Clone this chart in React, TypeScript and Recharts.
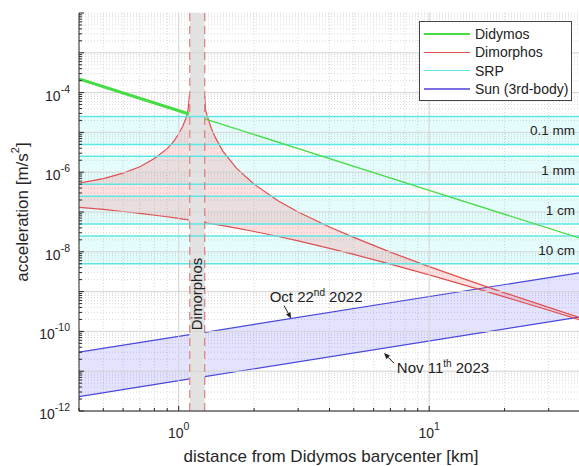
import React from "react"
import {
    ComposedChart,
    XAxis,
    YAxis,
    CartesianGrid,
    Line,
    Area,
    ReferenceArea,
    ReferenceLine,
    ReferenceDot,
} from "recharts"

const FONT = '"Liberation Sans", Arial, Helvetica, sans-serif'
const PLOT_LEFT = 79
const PLOT_BOTTOM = 411

// distances [km] and accelerations [m/s^2]
const didymosDist = [1.27, 10, 40]
const didymosAcc = [2.2e-5, 3.5e-7, 2.2e-8]
const didymosInnerDist = [0.4, 1.1]
const didymosInnerAcc = [2.2e-4, 2.9e-5]

// Dimorphos, inside its orbit
const dimInDist = [0.4, 0.5, 0.6, 0.7, 0.8, 0.9, 0.95, 1.0, 1.04, 1.07, 1.09, 1.105]
const dimInUpper = [5.3e-7, 6.9e-7, 9.5e-7, 1.37e-6, 2.2e-6, 3.9e-6, 5.7e-6, 9.1e-6, 1.47e-5, 2.3e-5, 3.6e-5, 9e-5]
const dimInLower = [1.3e-7, 1.16e-7, 1.03e-7, 9.2e-8, 8.3e-8, 7.6e-8, 7.2e-8, 6.9e-8, 6.6e-8, 6.5e-8, 6.3e-8, 6.3e-8]

// Dimorphos, outside its orbit
const dimOutDist = [1.27, 1.28, 1.3, 1.35, 1.4, 1.5, 1.7, 2, 2.5, 3, 4, 5, 7, 10, 15, 20, 30, 40]
const dimOutUpper = [
    8.5e-5, 3.6e-5, 2.6e-5, 1.25e-5, 7.5e-6, 3.4e-6, 1.27e-6, 5.0e-7, 1.9e-7, 1.0e-7, 4.2e-8, 2.3e-8, 9.8e-9,
    4.25e-9, 1.73e-9, 9.3e-10, 4.0e-10, 2.2e-10,
]
const dimOutLower = [
    5.45e-8, 5.4e-8, 5.3e-8, 5.1e-8, 4.9e-8, 4.56e-8, 3.95e-8, 3.24e-8, 2.42e-8, 1.88e-8, 1.22e-8, 8.6e-9,
    4.9e-9, 2.64e-9, 1.26e-9, 7.35e-10, 3.4e-10, 1.95e-10,
]

const srpLabels = ["0.1 mm", "1 mm", "1 cm", "10 cm"]
const srpHigh = [2.5e-5, 2.5e-6, 2.5e-7, 2.5e-8]
const srpLow = [5e-6, 5e-7, 5e-8, 5e-9]

const sunInDist = [0.4, 1.107]
const sunInOct = [3e-11, 8.3e-11]
const sunInNov = [2.3e-12, 6.4e-12]
const sunOutDist = [1.27, 40]
const sunOutOct = [9.5e-11, 3e-9]
const sunOutNov = [7.3e-12, 2.3e-10]

const dimorphosZone = [1.107, 1.27]

const xTicks = [0.4, 0.5, 0.6, 0.7, 0.8, 0.9, 1, 2, 3, 4, 5, 6, 7, 8, 9, 10, 20, 30, 40]
const xLabelExps = [0, 1]
const yLabelExps = [-12, -10, -8, -6, -4]
const yDecades = [-12, -11, -10, -9, -8, -7, -6, -5, -4, -3]
const yTicks = [...yDecades.flatMap((e) => [1, 2, 3, 4, 5, 6, 7, 8, 9].map((m) => m * Math.pow(10, e))), 1e-2]

const GREEN = "#45dc45"
const RED = "#de5050"
const CYAN = "#5ee6e6"
const BLUE = "#4848dc"

const toLine = (ds: number[], as: number[]) => ds.map((d, i) => ({ d, a: as[i] }))
const toBand = (ds: number[], lo: number[], hi: number[]) => ds.map((d, i) => ({ d, band: [lo[i], hi[i]] }))

const didymosData = toLine(didymosDist, didymosAcc)
const didymosInnerData = toLine(didymosInnerDist, didymosInnerAcc)
const dimInData = toBand(dimInDist, dimInLower, dimInUpper)
const dimOutData = toBand(dimOutDist, dimOutLower, dimOutUpper)
const sunInData = toBand(sunInDist, sunInNov, sunInOct)
const sunOutData = toBand(sunOutDist, sunOutNov, sunOutOct)

function decadeOf(v: number) {
    const l = Math.log10(v)
    const r = Math.round(l)
    return Math.abs(l - r) < 1e-6 ? r : null
}

function YTick(props: any) {
    const { y, payload } = props
    const exp = decadeOf(payload.value)
    const major = exp !== null
    return (
        <g>
            <line x1={PLOT_LEFT} x2={PLOT_LEFT + (major ? 5 : 3)} y1={y} y2={y} stroke="#262626" />
            {major && yLabelExps.includes(exp as number) && (
                <text x={PLOT_LEFT - 9} y={y + 8} textAnchor="end" fontSize={14} fill="#262626" fontFamily={FONT}>
                    10
                    <tspan dy={-8} fontSize={10.5}>
                        {exp}
                    </tspan>
                </text>
            )}
        </g>
    )
}

function XTick(props: any) {
    const { x, payload } = props
    const exp = decadeOf(payload.value)
    const major = exp !== null
    return (
        <g>
            <line x1={x} x2={x} y1={PLOT_BOTTOM} y2={PLOT_BOTTOM - (major ? 5 : 3)} stroke="#262626" />
            {major && xLabelExps.includes(exp as number) && (
                <text x={x} y={PLOT_BOTTOM + 27} textAnchor="middle" fontSize={14} fill="#262626" fontFamily={FONT}>
                    10
                    <tspan dy={-8} fontSize={10.5}>
                        {exp}
                    </tspan>
                </text>
            )}
        </g>
    )
}

function arrow(x1: number, y1: number, x2: number, y2: number) {
    const len = Math.hypot(x2 - x1, y2 - y1)
    const ux = (x2 - x1) / len
    const uy = (y2 - y1) / len
    const bx = x2 - ux * 6
    const by = y2 - uy * 6
    const pts = `${x2},${y2} ${bx - uy * 2.5},${by + ux * 2.5} ${bx + uy * 2.5},${by - ux * 2.5}`
    return (
        <g>
            <line x1={x1} y1={y1} x2={bx} y2={by} stroke="#222" strokeWidth={1} />
            <polygon points={pts} fill="#222" />
        </g>
    )
}

function OctNote(p: any) {
    const { cx, cy } = p
    return (
        <g>
            {arrow(cx - 7, cy - 13, cx, cy)}
            <text x={cx + 25} y={cy - 17} textAnchor="middle" fontSize={15} fill="#222" fontFamily={FONT}>
                Oct 22
                <tspan dy={-6} fontSize={10}>
                    nd
                </tspan>
                <tspan dy={6}> 2022</tspan>
            </text>
        </g>
    )
}

function NovNote(p: any) {
    const { cx, cy } = p
    return (
        <g>
            {arrow(cx + 10, cy + 15, cx, cy + 5)}
            <text x={cx + 59} y={cy + 25} textAnchor="middle" fontSize={15} fill="#222" fontFamily={FONT}>
                Nov 11
                <tspan dy={-6} fontSize={10}>
                    th
                </tspan>
                <tspan dy={6}> 2023</tspan>
            </text>
        </g>
    )
}

function DimorphosTag(p: any) {
    const { cx, cy } = p
    return (
        <text
            x={cx}
            y={cy}
            transform={`rotate(-90 ${cx} ${cy})`}
            textAnchor="middle"
            dominantBaseline="central"
            fontSize={15}
            fill="#222"
            fontFamily={FONT}
        >
            Dimorphos
        </text>
    )
}

const legendItems = [
    { name: "Didymos", color: GREEN },
    { name: "Dimorphos", color: RED },
    { name: "SRP", color: CYAN },
    { name: "Sun (3rd-body)", color: "#7b70e0" },
]

function band(data: any[], fill: string, opacity: number, stroke: string, key: string) {
    return (
        <Area
            key={key}
            data={data}
            dataKey="band"
            type="linear"
            fill={fill}
            fillOpacity={opacity}
            stroke={stroke}
            strokeWidth={1.2}
            isAnimationActive={false}
        />
    )
}

export default function App() {
    return (
        <div
            style={{
                position: "absolute",
                left: 0,
                top: 0,
                width: 579,
                height: 466,
                overflow: "hidden",
                background: "#fff",
                fontFamily: FONT,
            }}
        >
            <ComposedChart width={585} height={466} margin={{ top: 13, right: 5, bottom: 0, left: 0 }}>
                <CartesianGrid stroke="#d9d9d9" strokeDasharray="1 2" />
                <XAxis
                    type="number"
                    dataKey="d"
                    scale="log"
                    domain={[0.4, 40]}
                    ticks={xTicks}
                    interval={0}
                    tick={<XTick />}
                    tickLine={false}
                    axisLine={{ stroke: "#262626" }}
                    height={55}
                    allowDataOverflow
                />
                <YAxis
                    type="number"
                    scale="log"
                    domain={[1e-12, 1e-2]}
                    ticks={yTicks}
                    interval={0}
                    tick={<YTick />}
                    tickLine={false}
                    axisLine={{ stroke: "#262626" }}
                    width={79}
                    allowDataOverflow
                />
                {yDecades.map((e) => (
                    <ReferenceLine key={"gy" + e} y={Math.pow(10, e)} stroke="#d6d6d6" />
                ))}
                {xLabelExps.map((e) => (
                    <ReferenceLine key={"gx" + e} x={Math.pow(10, e)} stroke="#d6d6d6" />
                ))}
                {srpLabels.map((lab, i) => (
                    <ReferenceArea
                        key={lab}
                        y1={srpLow[i]}
                        y2={srpHigh[i]}
                        fill="#00e5e5"
                        fillOpacity={0.1}
                        stroke="none"
                        label={{ value: lab, position: "insideRight", fontSize: 13.5, fill: "#222", fontFamily: FONT }}
                    />
                ))}
                {srpLabels.flatMap((lab, i) => [
                    <ReferenceLine key={lab + "h"} y={srpHigh[i]} stroke={CYAN} strokeWidth={1.5} />,
                    <ReferenceLine key={lab + "l"} y={srpLow[i]} stroke={CYAN} strokeWidth={1.5} />,
                ])}
                {band(sunInData, "#5050ff", 0.16, BLUE, "sunIn")}
                {band(sunOutData, "#5050ff", 0.16, BLUE, "sunOut")}
                {band(dimInData, "#ff3030", 0.15, RED, "dimIn")}
                {band(dimOutData, "#ff3030", 0.15, RED, "dimOut")}
                <Line
                    data={didymosData}
                    dataKey="a"
                    type="linear"
                    stroke={GREEN}
                    strokeWidth={1.3}
                    dot={false}
                    isAnimationActive={false}
                />
                <Line
                    data={didymosInnerData}
                    dataKey="a"
                    type="linear"
                    stroke={GREEN}
                    strokeWidth={3}
                    dot={false}
                    isAnimationActive={false}
                />
                <ReferenceArea
                    x1={dimorphosZone[0]}
                    x2={dimorphosZone[1]}
                    fill="#e2e2e2"
                    fillOpacity={1}
                    stroke="none"
                />
                {dimorphosZone.map((x) => (
                    <ReferenceLine
                        key={"dz" + x}
                        x={x}
                        stroke="#e47c7c"
                        strokeWidth={1.2}
                        strokeDasharray="8 5"
                    />
                ))}
                <ReferenceDot x={1.18} y={8.7e-10} r={1} shape={<DimorphosTag />} />
                <ReferenceDot x={2.81} y={2.1e-10} r={1} shape={<OctNote />} />
                <ReferenceDot x={6.6} y={3.8e-11} r={1} shape={<NovNote />} />
                <text
                    x={22}
                    y={212}
                    transform="rotate(-90 22 212)"
                    textAnchor="middle"
                    dominantBaseline="central"
                    fontSize={17}
                    fill="#262626"
                    fontFamily={FONT}
                >
                    acceleration [m/s
                    <tspan dy={-7} fontSize={11}>
                        2
                    </tspan>
                    <tspan dy={7}>]</tspan>
                </text>
                <text x={331} y={462} textAnchor="middle" fontSize={17} fill="#262626" fontFamily={FONT}>
                    distance from Didymos barycenter [km]
                </text>
            </ComposedChart>
            <div
                style={{
                    position: "absolute",
                    left: 419,
                    top: 21,
                    width: 151,
                    height: 75,
                    border: "1px solid #444",
                    background: "#fff",
                    padding: "3px 0 0 0",
                    boxSizing: "content-box",
                }}
            >
                {legendItems.map((it) => (
                    <div key={it.name} style={{ display: "flex", alignItems: "center", height: 18.3 }}>
                        <div style={{ width: 46, height: 1.5, background: it.color, marginLeft: 4, marginRight: 5 }} />
                        <span style={{ fontSize: 14, color: "#222", whiteSpace: "nowrap" }}>{it.name}</span>
                    </div>
                ))}
            </div>
        </div>
    )
}
